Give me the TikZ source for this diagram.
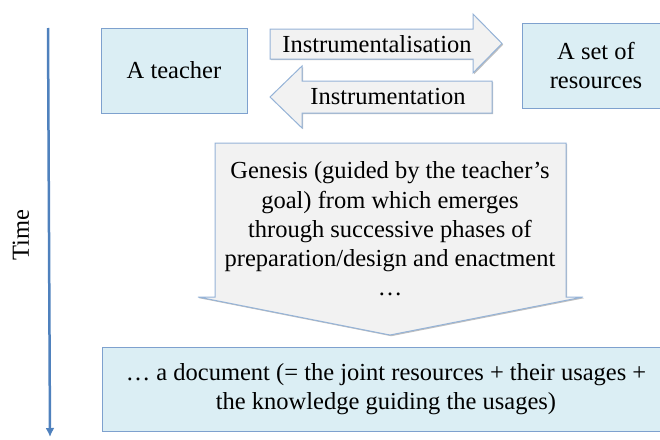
\documentclass[tikz,border=0pt]{standalone}
\usepackage{fontspec}
\setmainfont{Liberation Serif}
\usetikzlibrary{arrows.meta,shadows}
\definecolor{boxfill}{RGB}{219,238,244}
\definecolor{boxline}{RGB}{126,161,206}
\definecolor{arrowfill}{RGB}{242,242,242}
\definecolor{arrowline}{RGB}{149,179,215}
\definecolor{timeline}{RGB}{79,129,189}
\begin{document}
\begin{tikzpicture}[
            x=1pt, y=-1pt,
            softshadow/.style = {drop shadow={shadow xshift=1.2pt, shadow yshift=-1.2pt, opacity=0.25, fill=black}},
            bluebox/.style = {draw=boxline, fill=boxfill, line width=1pt, softshadow, align=center, inner sep=0pt, font=\rmfamily\fontsize{24.5}{29.3}\selectfont},
            greyarrow/.style = {draw=arrowline, fill=arrowfill, line width=1pt, line join=miter, softshadow},
            caption/.style = {align=center, inner sep=0pt, font=\rmfamily\fontsize{24.5}{29.3}\selectfont},
        ]
            \useasboundingbox (0,0) rectangle (660,439);

            % time axis
            \coordinate (tstart) at (48,28);
            \coordinate (tend) at (50,437);
            \draw[timeline, line width=2.5pt, -{Latex[length=9pt,width=9pt]}] (tstart) -- (tend);
            \node[caption, rotate=90] (time) at (21,235) {Time};

            % the two actors
            \node[bluebox, minimum width=146pt, minimum height=85pt] (teacher) at (174,70.5) {A teacher};
            \node[bluebox, minimum width=148pt, minimum height=85pt] (resources) at (596,65.5) {A set of\\resources};

            % instrumentalisation / instrumentation
            \draw[greyarrow] (270,29) -- (473,29) -- (473,14) -- (502,43.5) -- (473,73) -- (473,59) -- (270,59) -- cycle;
            \node[caption] (instrumentalisation) at (377,44) {Instrumentalisation};
            \draw[greyarrow] (492,81) -- (302,81) -- (302,66) -- (270,97) -- (302,128) -- (302,113) -- (492,113) -- cycle;
            \node[caption] (instrumentation) at (388,97) {Instrumentation};

            % genesis
            \draw[greyarrow] (215,143) -- (566,143) -- (566,297) -- (583,297) -- (390,335) -- (198,297) -- (215,297) -- cycle;
            \node[caption] (genesis) at (390,229) {Genesis (guided by the teacher’s\\goal) from which emerges\\through successive phases of\\preparation/design and enactment\\…};

            % outcome
            \node[bluebox, minimum width=568pt, minimum height=84pt] (document) at (386,389) {… a document (= the joint resources + their usages +\\the knowledge guiding the usages)};
        \end{tikzpicture}
\end{document}
